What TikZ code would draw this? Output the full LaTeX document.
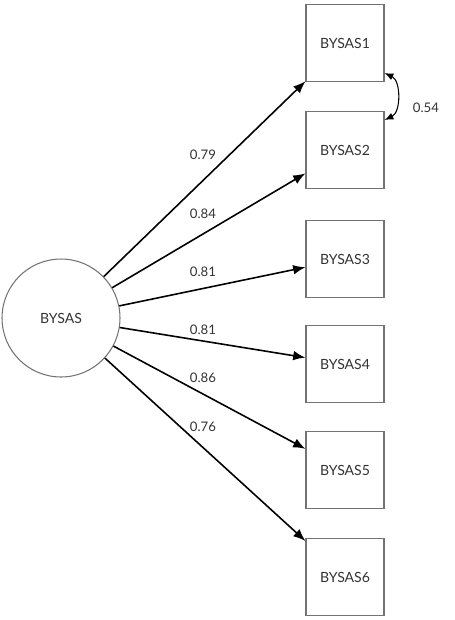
\documentclass[tikz,border=0pt]{standalone}
\usepackage{fontspec}
\setmainfont{Lato}
\usepackage{tikz}
\usetikzlibrary{arrows.meta,positioning,calc}

\begin{document}
\begin{tikzpicture}[
		x=0.02cm,y=-0.02cm,
		>={Latex[length=7pt,width=5.5pt]},
		every node/.style={font=\fontsize{7.5}{9}\selectfont, text=black!80},
		indicator/.style={draw=black!55, line width=0.6pt, minimum width=1.56cm, minimum height=1.54cm, inner sep=0pt, font=\fontsize{8}{9}\selectfont},
		latent/.style={circle, draw=black!55, line width=0.6pt, minimum size=2.36cm, inner sep=0pt, font=\fontsize{8}{9}\selectfont},
		loading/.style={->, line width=0.9pt}
		]
		
		\useasboundingbox (0,0) rectangle (454,620);
		
		% =========================
		% Latent factor
		% =========================
		\node[latent] (bysas) at (61,318) {BYSAS};
		
		% =========================
		% Observed items
		% =========================
		\node[indicator] (item1) at (345,43) {BYSAS1};
		\node[indicator] (item2) at (345,150) {BYSAS2};
		\node[indicator] (item3) at (345,259) {BYSAS3};
		\node[indicator] (item4) at (345,364) {BYSAS4};
		\node[indicator] (item5) at (345,470) {BYSAS5};
		\node[indicator] (item6) at (345,577) {BYSAS6};
		
		% factor loadings
		\draw[loading] (bysas) -- (item1);
		\draw[loading] (bysas) -- (item2);
		\draw[loading] (bysas) -- (item3);
		\draw[loading] (bysas) -- (item4);
		\draw[loading] (bysas) -- (item5);
		\draw[loading] (bysas) -- (item6);
		
		\node (w1) at (203,155) {0.79};
		\node (w2) at (203,214) {0.84};
		\node (w3) at (203,272) {0.81};
		\node (w4) at (203,330) {0.81};
		\node (w5) at (203,378) {0.86};
		\node (w6) at (203,427) {0.76};
		
		% error covariance
		\draw[<->, line width=0.6pt, >={Latex[length=5pt,width=4pt]}] ([yshift=0.18cm]item1.south east) to[bend left=65] ([yshift=-0.18cm]item2.north east);
		\node (cov12) at (426,108) {0.54};
		
	\end{tikzpicture}
\end{document}
